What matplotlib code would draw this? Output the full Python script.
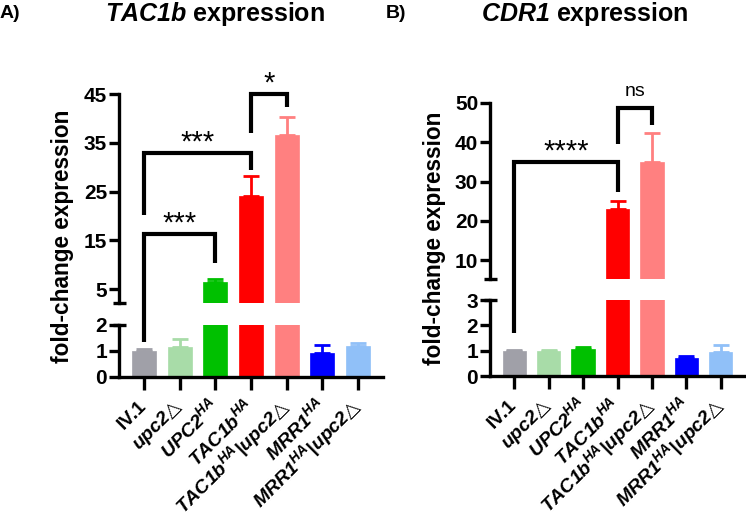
import matplotlib
matplotlib.use("Agg")
import matplotlib.pyplot as plt
import numpy as np
from matplotlib.lines import Line2D
from matplotlib.transforms import offset_copy

plt.rcParams["font.family"] = ["Liberation Sans", "DejaVu Sans"]
plt.rcParams["font.weight"] = "bold"
plt.rcParams["mathtext.fontset"] = "custom"
plt.rcParams["mathtext.rm"] = "Liberation Sans:bold"
plt.rcParams["mathtext.bf"] = "Liberation Sans:bold"
# italic bold goes through the sf slot so digits stay italic too
plt.rcParams["mathtext.sf"] = "Liberation Sans:italic:bold"
# tt slot borrowed for the open triangle glyph
plt.rcParams["mathtext.tt"] = "DejaVu Sans:italic"
plt.rcParams["mathtext.fallback"] = "stixsans"

strains = [
    "IV.1",
    r"$\mathsf{upc2}\mathtt{△}$",
    r"$\mathsf{UPC2}^{\mathsf{HA}}$",
    r"$\mathsf{TAC1b}^{\mathsf{HA}}$",
    r"$\mathsf{TAC1b}^{\mathsf{HA}}\mathsf{|upc2}\mathtt{△}$",
    r"$\mathsf{MRR1}^{\mathsf{HA}}$",
    r"$\mathsf{MRR1}^{\mathsf{HA}}\mathsf{|upc2}\mathtt{△}$",
]
colors = ["#a0a0a8", "#a8dca8", "#00c000", "#ff0000", "#ff8080", "#0000ff", "#90c0f8"]

tac1b_mean = [1.0, 1.15, 6.4, 24.2, 36.6, 0.93, 1.2]
tac1b_err = [0.06, 0.3, 0.7, 4.1, 3.7, 0.3, 0.1]
cdr1_mean = [1.0, 0.98, 1.05, 23.1, 34.9, 0.71, 0.95]
cdr1_err = [0.04, 0.03, 0.1, 2.0, 7.4, 0.08, 0.27]

# brackets: (left bar, right bar, bracket height, left leg end, right leg end, label)
tac1b_sig = [
    (0, 2, 16.4, 1.35, 10.3, "***"),
    (0, 3, 33.0, 20.3, 29.5, "***"),
    (3, 4, 45.0, 37.0, 42.3, "*"),
]
cdr1_sig = [
    (0, 3, 35.1, 1.7, 27.4, "****"),
    (3, 4, 48.7, 39.5, 44.4, "ns"),
]

SPINE_W = 2.4
W, H = 746, 519


def px_rect(x0, x1, y_top, y_bot):
    return [x0 / W, (H - y_bot) / H, (x1 - x0) / W, (y_bot - y_top) / H]


def style_axis(ax, ticks):
    for side in ("top", "right"):
        ax.spines[side].set_visible(False)
    ax.spines["left"].set_linewidth(SPINE_W)
    ax.spines["bottom"].set_linewidth(SPINE_W)
    ax.set_yticks(ticks)
    ax.set_yticklabels([str(t) for t in ticks])
    ax.tick_params(axis="y", length=7, width=SPINE_W, labelsize=15, pad=1.5)
    ax.set_facecolor("none")


def break_mark(ax, y_axes):
    half = 6.5 / (ax.get_position().width * W)
    ax.plot([-half, half], [y_axes, y_axes], transform=ax.transAxes,
            color="black", lw=SPINE_W, clip_on=False, solid_capstyle="butt")


def draw_panel(fig, rect_hi, rect_lo, means, errs, ylim_hi, ylim_lo, ticks_hi, ticks_lo, sig):
    ax_lo = fig.add_axes(rect_lo)
    ax_hi = fig.add_axes(rect_hi, sharex=ax_lo)
    x = np.arange(len(means))
    for ax in (ax_hi, ax_lo):
        ax.bar(x, means, width=0.67, color=colors, edgecolor=colors, linewidth=0.5)
        for xi, m, e, c in zip(x, means, errs, colors):
            ax.errorbar(xi, m, yerr=[[0], [e]], fmt="none", ecolor=c,
                        elinewidth=2, capsize=6, capthick=2)
    ax_lo.set_xlim(-0.7, len(means) - 0.3)
    ax_hi.set_ylim(*ylim_hi)
    ax_lo.set_ylim(*ylim_lo)
    style_axis(ax_hi, ticks_hi)
    style_axis(ax_lo, ticks_lo)
    ax_hi.spines["bottom"].set_visible(False)
    ax_hi.tick_params(axis="x", bottom=False, labelbottom=False)
    ax_lo.set_xticks(x)
    ax_lo.set_xticklabels(strains, rotation=45, ha="right", va="center",
                          rotation_mode="anchor", fontsize=14)
    ax_lo.tick_params(axis="x", length=9, width=SPINE_W, pad=10)
    break_mark(ax_hi, 0)
    break_mark(ax_lo, 1)

    to_fig = fig.transFigure.inverted()

    def point(xv, yv):
        ax = ax_hi if yv >= ylim_hi[0] else ax_lo
        return to_fig.transform(ax.transData.transform((xv, yv)))

    for a, b, top, left_end, right_end, label in sig:
        pts = [point(a, left_end), point(a, top), point(b, top), point(b, right_end)]
        xs = [p[0] for p in pts]
        ys = [p[1] for p in pts]
        fig.add_artist(Line2D(xs, ys, transform=fig.transFigure, color="black", lw=3,
                              solid_joinstyle="miter", solid_capstyle="butt"))
        mid = point((a + b) / 2, top)
        if label == "ns":
            tr = offset_copy(fig.transFigure, fig=fig, y=17, units="dots")
            fig.text(mid[0], mid[1], label, transform=tr, ha="center", va="center",
                     fontsize=14, fontweight="normal")
        else:
            tr = offset_copy(fig.transFigure, fig=fig, y=10, units="dots")
            fig.text(mid[0], mid[1], label, transform=tr, ha="center", va="center",
                     fontsize=21, fontweight="normal")
    return ax_hi, ax_lo


fig = plt.figure(figsize=(W / 100, H / 100), dpi=100)

draw_panel(fig, px_rect(119, 383, 94, 303), px_rect(119, 383, 325, 377),
           tac1b_mean, tac1b_err, (2.2, 45), (0, 2), [5, 15, 25, 35, 45], [0, 1, 2], tac1b_sig)
draw_panel(fig, px_rect(490, 745, 103, 279), px_rect(490, 745, 300, 376),
           cdr1_mean, cdr1_err, (5.2, 50), (0, 3), [10, 20, 30, 40, 50], [0, 1, 2, 3], cdr1_sig)

fig.text(62 / W, 1 - 236 / H, "fold-change expression", rotation=90, ha="center",
         va="center", fontsize=16.3)
fig.text(434 / W, 1 - 238 / H, "fold-change expression", rotation=90, ha="center",
         va="center", fontsize=16.3)

fig.text(215 / W, 1 - 14 / H, r"$\mathsf{TAC1b}$ expression", ha="center", va="center", fontsize=18)
fig.text(585 / W, 1 - 14 / H, r"$\mathsf{CDR1}$ expression", ha="center", va="center", fontsize=18)
fig.text(0, 1 - 14 / H, "A)", ha="left", va="center", fontsize=14)
fig.text(386 / W, 1 - 14 / H, "B)", ha="left", va="center", fontsize=14)

fig.savefig("out.png", dpi=100)
